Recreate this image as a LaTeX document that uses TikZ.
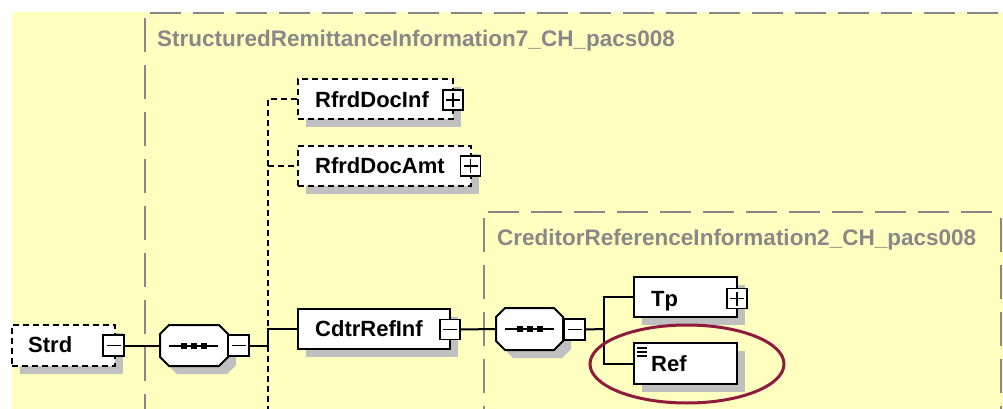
\documentclass[tikz,border=0pt]{standalone}
\usepackage{fontspec}
\setmainfont{Liberation Sans}
\definecolor{bgyellow}{HTML}{FFFFC0}
\definecolor{framegray}{HTML}{888888}
\definecolor{shadowgray}{HTML}{C0C0C0}
\definecolor{ringred}{HTML}{8E1B3B}
\tikzset{
  elem/.style={draw=black, line width=2pt, fill=white, rectangle, inner sep=0pt},
  optelem/.style={elem, dash pattern=on 6pt off 4pt},
  shade/.style={fill=shadowgray, draw=none},
  pmbox/.style={draw=black, line width=1.5pt, fill=white, rectangle, minimum size=20pt, inner sep=0pt},
  minusbox/.style={pmbox, path picture={\draw[line width=1.5pt] ([xshift=-7pt]path picture bounding box.center) -- ([xshift=7pt]path picture bounding box.center);}},
  plusbox/.style={pmbox, path picture={\draw[line width=1.5pt] ([xshift=-7pt]path picture bounding box.center) -- ([xshift=7pt]path picture bounding box.center) ([yshift=-7pt]path picture bounding box.center) -- ([yshift=7pt]path picture bounding box.center);}},
  conn/.style={draw=black, line width=2pt},
  optconn/.style={conn, dash pattern=on 6pt off 4pt},
  framevert/.style={draw=framegray, line width=2pt, dash pattern=on 34pt off 13pt},
  framehor/.style={draw=framegray, line width=2pt, dash pattern=on 31pt off 12pt},
  ttl/.style={text=framegray, font=\bfseries\fontsize{22.5}{24}\selectfont, anchor=base west, inner sep=0pt},
  lbl/.style={text=black, font=\bfseries\fontsize{22}{24}\selectfont, anchor=base west, inner sep=0pt},
  seqline/.style={draw=black, line width=2pt},
  ring/.style={draw=ringred, line width=3pt},
}
\begin{document}
\begin{tikzpicture}[x=1pt, y=-1pt]
\useasboundingbox (0,0) rectangle (1003,409);
% background
\fill[bgyellow] (12,12) rectangle (1003,409);
% outer group frame
\draw[framehor] (150,13) -- (1003,13);
\draw[framevert] (145,18) -- (145,409);
\node[ttl] (title1) at (157,47) {StructuredRemittanceInformation7\_CH\_pacs008};
% inner group frame
\draw[framehor] (488,212) -- (1003,212);
\draw[framevert] (484,218) -- (484,409);
\draw[framevert] (1001,218) -- (1001,409);
\node[ttl] (title2) at (497,245) {CreditorReferenceInformation2\_CH\_pacs008};

% shadows
\fill[shade] (20,333) rectangle (123,374);
\fill[shade] (177,333) -- (227,333) -- (236,342) -- (236,365) -- (227,374) -- (177,374) -- (168,365) -- (168,342) -- cycle;
\fill[shade] (306,87) rectangle (461,127);
\fill[shade] (306,154) rectangle (479,194);
\fill[shade] (306,317) rectangle (458,357);
\fill[shade] (513,316) -- (562,316) -- (571,325) -- (571,349) -- (562,358) -- (513,358) -- (504,349) -- (504,325) -- cycle;
\fill[shade] (642,285) rectangle (745,325);
\fill[shade] (642,351) rectangle (745,392);

% element boxes (named)
\node[optelem, minimum width=103pt, minimum height=41pt] (strd) at (63.5,345.5) {};
\node[minimum width=68pt, minimum height=41pt, inner sep=0pt] (seq1) at (194,345.5) {};
\node[optelem, minimum width=155pt, minimum height=40pt] (rdi) at (375.5,99) {};
\node[optelem, minimum width=173pt, minimum height=40pt] (rda) at (384.5,166) {};
\node[elem, minimum width=152pt, minimum height=40pt] (cri) at (374,329) {};
\node[minimum width=67pt, minimum height=42pt, inner sep=0pt] (seq2) at (529.5,329) {};
\node[elem, minimum width=103pt, minimum height=40pt] (tp) at (685.5,297) {};
\node[elem, minimum width=103pt, minimum height=41pt] (ref) at (685.5,363.5) {};

% sequence compositors (octagons)
\draw[elem] (169,325) -- (219,325) -- (228,334) -- (228,357) -- (219,366) -- (169,366) -- (160,357) -- (160,334) -- cycle;
\draw[seqline] (169,345.5) -- (218,345.5);
\fill (181,342.5) rectangle (187,348.5);
\fill (191,342.5) rectangle (197,348.5);
\fill (201,342.5) rectangle (207,348.5);
\draw[elem] (505,308) -- (554,308) -- (563,317) -- (563,341) -- (554,350) -- (505,350) -- (496,341) -- (496,317) -- cycle;
\draw[seqline] (505,329) -- (554,329);
\fill (517,326) rectangle (523,332);
\fill (527,326) rectangle (533,332);
\fill (537,326) rectangle (543,332);

% plus / minus boxes
\node[minusbox, minimum size=21pt] (strdpm) at (113.5,345.5) {};
\node[minusbox, minimum size=21pt] (seq1pm) at (238.5,345.5) {};
\node[plusbox] (rdipm) at (453,100) {};
\node[plusbox] (rdapm) at (470.5,166) {};
\node[minusbox] (cripm) at (450,329.5) {};
\node[minusbox, minimum size=21pt] (seq2pm) at (574.5,329.5) {};
\node[plusbox] (tppm) at (737,298.5) {};

% junction coordinates
\coordinate (j1) at (268,345.5);
\coordinate (j1c) at (268,329);
\coordinate (j1top) at (268,99);
\coordinate (j1mid) at (268,166);
\coordinate (j1bot) at (268,409);
\coordinate (j2) at (604,329);
\coordinate (j2top) at (604,297);
\coordinate (j2bot) at (604,363.5);

% connectors
\draw[conn] (strdpm.east) -- (seq1.west);
\draw[conn] (seq1pm.east) -- (j1) -- (j1c) -- (cri.west);
\draw[optconn] (rdi.west) -- (j1top) -- (j1c);
\draw[optconn] (j1mid) -- (rda.west);
\draw[optconn] (j1) -- (j1bot);
\draw[conn] (cripm.east) -- (seq2.west);
\draw[conn] (seq2pm.east) -- (j2);
\draw[conn] (tp.west) -- (j2top) -- (j2bot) -- (ref.west);

% Ref text-content icon
\draw[line width=1.3pt] (637,348) -- (647,348) (637,352) -- (647,352) (637,356) -- (647,356);

% labels
\node[lbl] (tstrd) at (28,352) {Strd};
\node[lbl] (trdi) at (315,107) {RfrdDocInf};
\node[lbl] (trda) at (315,173) {RfrdDocAmt};
\node[lbl] (tcri) at (315,336) {CdtrRefInf};
\node[lbl] (ttp) at (651,306) {Tp};
\node[lbl] (tref) at (651,371) {Ref};

% highlight ring
\draw[ring] (687,364) ellipse [x radius=97pt, y radius=39pt];
\end{tikzpicture}
\end{document}
